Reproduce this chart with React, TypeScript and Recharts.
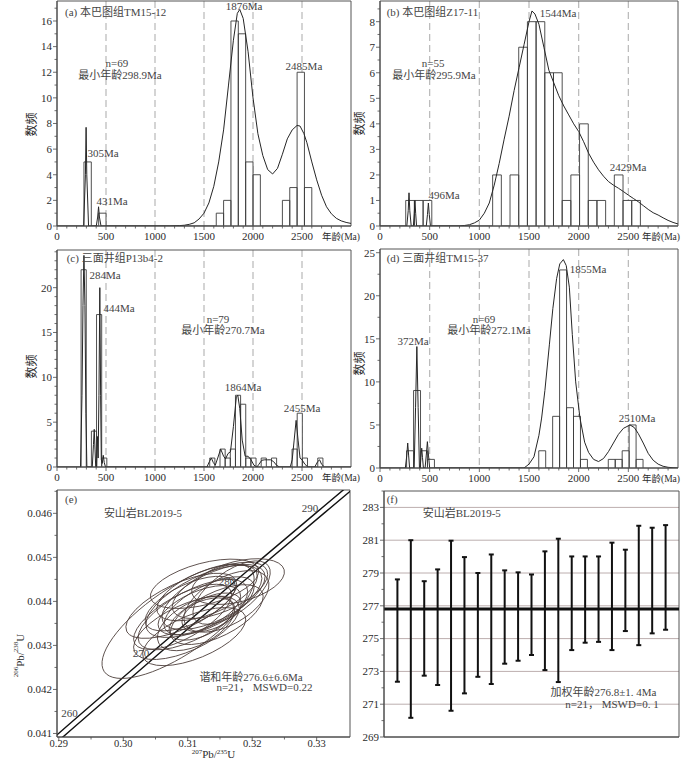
import React from "react";
import {
  ComposedChart,
  Area,
  Line,
  Scatter,
  XAxis,
  YAxis,
  CartesianGrid,
  ReferenceArea,
  ReferenceDot,
  ReferenceLine,
} from "recharts";

const FONT = "'Liberation Serif', 'Times New Roman', 'Noto Sans CJK SC', serif";
const INK = "#2b2b2b";
const NOTE = "#444";
const AXIS = "#4a4a4a";

// ---------- shared age axis (panels a-d) ----------
const AGE_MAJORS = [0, 500, 1000, 1500, 2000, 2500];
const AGE_MINORS = [
  100, 200, 300, 400, 600, 700, 800, 900, 1100, 1200, 1300, 1400, 1600, 1700, 1800, 1900, 2100,
  2200, 2300, 2400, 2600, 2700, 2800, 2900,
];

// ---------- (a) 本巴图组TM15-12 ----------
const binStartA = 275;
const binWidthA = 75;
const countsA = [5, 0, 1, 0, 0, 0, 0, 0, 0, 0, 0, 0, 0, 0, 0, 0, 0, 0, 1, 2, 16, 15, 5, 4, 0, 0, 0, 2, 3, 12, 3];
const kdeA = [
  [0, 0], [272, 0], [290, 4], [297, 7.7], [304, 4], [322, 0], [401, 0], [415, 0.7], [424, 1.5],
  [433, 0.7], [449, 0], [1150, 0], [1250, 0.03], [1300, 0.06], [1350, 0.13], [1400, 0.25],
  [1450, 0.55], [1500, 1.0], [1550, 1.8], [1600, 3.1], [1650, 5.0], [1700, 7.5], [1750, 11.0],
  [1800, 14.5], [1840, 16.6], [1865, 16.9], [1900, 16.2], [1950, 13.6], [2000, 10.0], [2050, 7.2],
  [2100, 5.5], [2150, 4.4], [2200, 4.06], [2250, 4.5], [2300, 5.6], [2350, 6.8], [2400, 7.5],
  [2450, 7.85], [2480, 7.8], [2520, 7.2], [2550, 6.5], [2600, 5.0], [2650, 3.6], [2700, 2.4],
  [2750, 1.5], [2800, 0.95], [2850, 0.6], [2900, 0.4], [2950, 0.28], [3000, 0.2],
];
const yMajorsA = [0, 2, 4, 6, 8, 10, 12, 14, 16];
const yMinorsA = [1, 3, 5, 7, 9, 11, 13, 15, 17];
const notesA: Note[] = [
  [82, 16.7, "(a) 本巴图组TM15-12", "start"],
  [612, 12.7, "n=69"],
  [643, 11.8, "最小年龄298.9Ma"],
  [1908, 17.2, "1876Ma"],
  [2520, 12.5, "2485Ma"],
  [469, 5.7, "305Ma"],
  [561, 1.95, "431Ma"],
];

// ---------- (b) 本巴图组Z17-11 ----------
const binStartB = 259;
const binWidthB = 87.5;
const countsB = [1, 1, 1, 0, 0, 0, 0, 0, 0, 0, 2, 0, 2, 7, 8, 8, 6, 6, 1, 2, 4, 1, 1, 0, 2, 1, 1];
const kdeB = [
  [0, 0], [270, 0], [284, 0.6], [292, 1.3], [300, 0.6], [314, 0], [336, 0], [345, 0.5], [352, 1.0],
  [359, 0.5], [368, 0], [466, 0], [478, 0.45], [487, 0.9], [496, 0.45], [508, 0], [800, 0],
  [850, 0.02], [900, 0.05], [950, 0.12], [1000, 0.23], [1050, 0.5], [1100, 0.9], [1150, 1.6],
  [1200, 2.45], [1250, 3.4], [1300, 4.3], [1350, 5.3], [1400, 6.2], [1450, 7.1], [1500, 8.0],
  [1530, 8.42], [1560, 8.3], [1600, 7.9], [1650, 7.0], [1700, 6.1], [1750, 5.6], [1800, 5.1],
  [1850, 4.7], [1900, 4.35], [1950, 4.0], [2000, 3.7], [2050, 3.3], [2100, 2.85], [2150, 2.5],
  [2200, 2.2], [2250, 1.95], [2300, 1.74], [2350, 1.6], [2400, 1.48], [2450, 1.35], [2500, 1.21],
  [2550, 1.08], [2600, 0.95], [2650, 0.8], [2700, 0.65], [2750, 0.52], [2800, 0.43], [2850, 0.32],
  [2900, 0.22], [2950, 0.14], [3000, 0.08],
];
const yMajorsB = [0, 1, 2, 3, 4, 5, 6, 7, 8];
const yMinorsB = [0.5, 1.5, 2.5, 3.5, 4.5, 5.5, 6.5, 7.5, 8.5];
const notesB: Note[] = [
  [67, 8.38, "(b) 本巴图组Z17-11", "start"],
  [534, 6.38, "n=55"],
  [544, 5.91, "最小年龄295.9Ma"],
  [1792, 8.34, "1544Ma"],
  [2497, 2.31, "2429Ma"],
  [644, 1.21, "496Ma"],
];

// ---------- (c) 三面井组P13b4-2 ----------
const binStartC = 246;
const binWidthC = 52.5;
const countsC = [
  22, 0, 4, 17, 1, 0, 0, 0, 0, 0, 0, 0, 0, 0, 0, 0, 0, 0, 0, 0, 0, 0, 0, 0, 0, 1, 0, 2, 1, 2, 8, 7,
  1, 1, 0, 1, 0, 1, 0, 0, 0, 2, 6, 1, 0, 0, 1,
];
const kdeC = [
  [0, 0], [240, 0], [255, 8], [265, 18], [275, 23.6], [285, 18], [295, 6], [305, 0], [360, 0],
  [372, 2.5], [380, 4.2], [388, 2.0], [395, 0], [405, 0], [412, 3.4], [420, 1.0], [428, 8],
  [437, 20], [445, 8], [452, 0.8], [462, 0.4], [472, 1.3], [482, 0.5], [495, 0], [1530, 0],
  [1555, 0.6], [1575, 1.0], [1595, 0.5], [1615, 0.2], [1640, 1.0], [1670, 2.0], [1700, 1.2],
  [1720, 0.9], [1745, 1.5], [1770, 1.7], [1800, 4.5], [1830, 7.8], [1845, 8.0], [1865, 6.5],
  [1890, 3.0], [1920, 1.2], [1950, 1.2], [1980, 0.8], [2010, 0.2], [2040, 0], [2060, 0.3],
  [2090, 0.75], [2120, 0.8], [2150, 0.8], [2180, 0.8], [2210, 0.6], [2240, 0.2], [2270, 0],
  [2380, 0], [2400, 0.8], [2420, 3], [2440, 5.2], [2460, 3], [2480, 1.0], [2500, 0.8], [2530, 0.3],
  [2560, 0], [2630, 0], [2660, 0.6], [2680, 0.8], [2700, 0.3], [2730, 0], [3000, 0],
];
const yMajorsC = [0, 5, 10, 15, 20];
const yMinorsC = [1, 2, 3, 4, 6, 7, 8, 9, 11, 12, 13, 14, 16, 17, 18, 19, 21, 22, 23, 24];
const notesC: Note[] = [
  [99, 23.3, "(c) 三面井组P13b4-2", "start"],
  [490, 21.4, "284Ma"],
  [633, 17.7, "444Ma"],
  [1643, 16.5, "n=79"],
  [1694, 15.3, "最小年龄270.7Ma"],
  [1898, 8.9, "1864Ma"],
  [2500, 6.6, "2455Ma"],
];

// ---------- (d) 三面井组TM15-37 ----------
const binStartD = 268;
const binWidthD = 70;
const countsD = [2, 9, 2, 1, 0, 0, 0, 0, 0, 0, 0, 0, 0, 0, 0, 0, 0, 0, 0, 2, 0, 6, 23, 7, 6, 1, 0, 0, 0, 1, 1, 2, 5, 1];
const kdeD = [
  [0, 0], [255, 0], [270, 1.5], [279, 2.9], [288, 1.5], [298, 0], [344, 0], [358, 7], [371, 14.1],
  [384, 7], [397, 0], [404, 0], [412, 1.2], [420, 2.3], [428, 1.2], [437, 0], [454, 0], [466, 1.5],
  [477, 3.06], [488, 1.5], [500, 0], [1450, 0], [1500, 0.45], [1550, 1.3], [1600, 3.8],
  [1627, 5.8], [1660, 9.0], [1705, 14.3], [1740, 18.5], [1778, 22.0], [1810, 23.7], [1846, 24.2],
  [1875, 23.5], [1906, 21.0], [1936, 15.5], [1970, 10.0], [2013, 5.8], [2060, 3.0], [2100, 1.8],
  [2150, 1.0], [2200, 0.75], [2250, 1.1], [2300, 1.9], [2350, 2.9], [2400, 3.9], [2450, 4.6],
  [2517, 5.0], [2560, 4.7], [2600, 4.0], [2650, 2.9], [2700, 1.7], [2750, 0.9], [2800, 0.45],
  [2850, 0.2], [2900, 0.08], [2950, 0.03], [3000, 0],
];
const yMajorsD = [0, 5, 10, 15, 20, 25];
const yMinorsD = [2.5, 7.5, 12.5, 17.5, 22.5];
const notesD: Note[] = [
  [67, 24.4, "(d) 三面井组TM15-37", "start"],
  [1047, 17.3, "n=69"],
  [1097, 16.0, "最小年龄272.1Ma"],
  [332, 14.75, "372Ma"],
  [2094, 23.1, "1855Ma"],
  [2587, 5.8, "2510Ma"],
];

// ---------- (e) concordia ----------
const concordY = [0.0408, 0.04116, 0.04277, 0.04439, 0.04601, 0.0467];
const concordLeftX = [0.2884, 0.2912, 0.3039, 0.3168, 0.3299, 0.3355];
const concordRightX = [0.2897, 0.2925, 0.3052, 0.3181, 0.3312, 0.3368];
// [207Pb/235U, 206Pb/238U, half-width x, half-height y, rho]
const ellipses = [
  [0.3085, 0.04355, 0.0118, 0.0013, 0.74],
  [0.3178, 0.04445, 0.0072, 0.00052, 0.42],
  [0.3125, 0.044, 0.009, 0.00082, 0.64],
  [0.3108, 0.0437, 0.0085, 0.0008, 0.66],
  [0.314, 0.0441, 0.008, 0.00074, 0.62],
  [0.3098, 0.0434, 0.0082, 0.00072, 0.62],
  [0.315, 0.04425, 0.0074, 0.00064, 0.58],
  [0.3118, 0.0438, 0.0064, 0.00056, 0.58],
  [0.3133, 0.0439, 0.007, 0.00066, 0.64],
  [0.3092, 0.04365, 0.0076, 0.00074, 0.68],
  [0.316, 0.044, 0.0066, 0.0007, 0.54],
  [0.3113, 0.0435, 0.006, 0.00062, 0.52],
  [0.313, 0.0442, 0.0078, 0.00064, 0.58],
  [0.3104, 0.04395, 0.007, 0.00062, 0.62],
  [0.3145, 0.0437, 0.0072, 0.00068, 0.6],
  [0.3126, 0.0444, 0.0084, 0.00056, 0.5],
  [0.311, 0.0432, 0.008, 0.00066, 0.6],
  [0.3168, 0.0442, 0.006, 0.00072, 0.64],
  [0.3121, 0.0436, 0.005, 0.00048, 0.52],
  [0.3137, 0.04375, 0.0046, 0.00044, 0.48],
  [0.309, 0.0439, 0.0086, 0.00074, 0.66],
];
const xMajorsE = [0.29, 0.3, 0.31, 0.32, 0.33];
const xMinorsE = [0.295, 0.305, 0.315, 0.325];
const yMajorsE = [0.041, 0.042, 0.043, 0.044, 0.045, 0.046];
const yMinorsE = [0.0415, 0.0425, 0.0435, 0.0445, 0.0455, 0.0465];
const notesE: Note[] = [
  [0.29096, 0.046325, "(e)", "start"],
  [0.30306, 0.04601, "安山岩BL2019-5"],
  [0.32896, 0.04612, "290"],
  [0.29166, 0.04146, "260"],
  [0.30275, 0.04283, "270"],
  [0.31609, 0.04446, "280"],
  [0.31981, 0.04229, "谐和年龄276.6±6.6Ma"],
  [0.3219, 0.04205, "n=21， MSWD=0.22"],
];

// ---------- (f) weighted mean ----------
const errTop = [
  278.61, 281.0, 278.5, 279.22, 280.97, 279.97, 279.0, 280.13, 279.16, 279.04, 278.91, 280.32,
  281.09, 280.01, 280.01, 280.01, 280.85, 280.42, 281.88, 281.76, 281.92,
];
const errBottom = [
  272.37, 270.17, 272.74, 272.17, 270.6, 271.66, 272.67, 272.23, 273.47, 273.65, 274.0, 273.08,
  272.35, 274.3, 274.75, 274.8, 274.3, 275.46, 274.6, 275.32, 275.54,
];
const weightedMean = 276.8;
const yMajorsF = [269, 271, 273, 275, 277, 279, 281, 283];
const yMinorsF = [270, 272, 274, 276, 278, 280, 282, 284];
const gridF = [271, 273, 275, 277, 279, 281, 283];
const notesF: Note[] = [
  [0.2, 283.5, "(f)", "start"],
  [5.8, 282.65, "安山岩BL2019-5"],
  [16.36, 271.72, "加权年龄276.8±1. 4Ma"],
  [17.0, 271.02, "n=21， MSWD=0. 1"],
];

type Note = [number, number, string, string?];

// ---------- helpers ----------
const isIn = (list: number[], v: number) => list.some((m) => Math.abs(m - v) < 1e-9);
const sorted = (a: number[], b: number[]) => [...a, ...b].sort((p, q) => p - q);

function makeBottomTick(majors: number[], fmt: (v: number) => string, labelDy = 14, size = 11) {
  return (props: any) => {
    const { x, y, payload } = props;
    const major = isIn(majors, payload.value);
    return (
      <g>
        <line x1={x} y1={y} x2={x} y2={y + (major ? 4 : 2.5)} stroke={AXIS} strokeWidth={0.8} />
        {major && (
          <text x={x} y={y + labelDy} textAnchor="middle" fontSize={size} fontFamily={FONT} fill={INK}>
            {fmt(payload.value)}
          </text>
        )}
      </g>
    );
  };
}

function makeLeftTick(majors: number[], fmt: (v: number) => string) {
  return (props: any) => {
    const { x, y, payload } = props;
    const major = isIn(majors, payload.value);
    return (
      <g>
        <line x1={x - (major ? 4 : 2.5)} y1={y} x2={x} y2={y} stroke={AXIS} strokeWidth={0.8} />
        {major && (
          <text x={x - 5} y={y} dy="0.35em" textAnchor="end" fontSize={11} fontFamily={FONT} fill={INK}>
            {fmt(payload.value)}
          </text>
        )}
      </g>
    );
  };
}

function yTitle(content: React.ReactNode, dx: number, dy: number) {
  return (props: any) => {
    const vb = props.viewBox || { x: 0, y: 0, width: 0, height: 0 };
    const cx = vb.x + dx;
    const cy = vb.y + vb.height / 2 + dy;
    return (
      <text
        x={cx}
        y={cy}
        transform={`rotate(-90 ${cx} ${cy})`}
        textAnchor="middle"
        dominantBaseline="central"
        fontSize={12}
        fontFamily={FONT}
        fill={INK}
      >
        {content}
      </text>
    );
  };
}

function xTitleRight(text: string, dx: number) {
  return (props: any) => {
    const vb = props.viewBox || { x: 0, y: 0, width: 0, height: 0 };
    return (
      <text x={vb.x + vb.width + dx} y={vb.y + 14} textAnchor="end" fontSize={9.5} fontFamily={FONT} fill={INK}>
        {text}
      </text>
    );
  };
}

const noteShape = (text: string, anchor = "middle") => (p: any) => (
  <text
    x={p.cx}
    y={p.cy}
    textAnchor={anchor as any}
    dominantBaseline="central"
    fontSize={11}
    fontFamily={FONT}
    fill={NOTE}
  >
    {text}
  </text>
);

function histOutline(start: number, width: number, counts: number[]) {
  const pts: { x: number; y: number }[] = [];
  counts.forEach((c, i) => {
    if (!c) return;
    const x0 = start + i * width;
    const x1 = x0 + width;
    pts.push({ x: x0, y: 0 }, { x: x0, y: c }, { x: x1, y: c }, { x: x1, y: 0 });
  });
  return pts;
}

// ---------- histogram + probability-density panel ----------
type HistCfg = {
  left: number;
  top: number;
  width: number;
  height: number;
  marginTop: number;
  yWidth: number;
  yMax: number;
  yMajors: number[];
  yMinors: number[];
  binStart: number;
  binWidth: number;
  counts: number[];
  kde: number[][];
  notes: Note[];
  yTitleDx: number;
  yTitleDy: number;
  xTitleDx: number;
};

function HistPanel({ cfg }: { cfg: HistCfg }) {
  const hist = histOutline(cfg.binStart, cfg.binWidth, cfg.counts);
  const kde = cfg.kde.map(([x, y]) => ({ x, y }));
  return (
    <div style={{ position: "absolute", left: cfg.left, top: cfg.top }}>
      <ComposedChart
        width={cfg.width}
        height={cfg.height}
        margin={{ top: cfg.marginTop, right: 10, bottom: 0, left: 0 }}
      >
        <CartesianGrid
          horizontal={false}
          verticalValues={[500, 1000, 1500, 2000, 2500]}
          stroke="#b8b8b8"
          strokeDasharray="7 4"
          strokeWidth={1.2}
        />
        <XAxis
          type="number"
          dataKey="x"
          domain={[0, 3000]}
          allowDataOverflow
          ticks={sorted(AGE_MAJORS, AGE_MINORS)}
          interval={0}
          tickSize={0}
          tickMargin={0}
          tickLine={false}
          height={20}
          axisLine={{ stroke: AXIS }}
          tick={makeBottomTick(AGE_MAJORS, (v) => String(v))}
          label={xTitleRight("年龄(Ma)", cfg.xTitleDx)}
        />
        <YAxis
          type="number"
          dataKey="y"
          domain={[0, cfg.yMax]}
          allowDataOverflow
          ticks={sorted(cfg.yMajors, cfg.yMinors)}
          interval={0}
          tickSize={0}
          tickMargin={0}
          tickLine={false}
          width={cfg.yWidth}
          axisLine={{ stroke: AXIS }}
          tick={makeLeftTick(cfg.yMajors, (v) => String(v))}
          label={yTitle("数频", cfg.yTitleDx, cfg.yTitleDy)}
        />
        <Area
          data={hist}
          dataKey="y"
          type="linear"
          stroke="#3c3c3c"
          strokeWidth={0.9}
          fill="#ffffff"
          fillOpacity={1}
          isAnimationActive={false}
        />
        <Line
          data={kde}
          dataKey="y"
          type="linear"
          stroke="#262626"
          strokeWidth={1}
          dot={false}
          isAnimationActive={false}
        />
        <ReferenceArea x1={0} x2={3000} y1={0} y2={cfg.yMax} fill="none" stroke="#555" strokeWidth={1} />
        {cfg.notes.map((n, i) => (
          <ReferenceDot key={i} x={n[0]} y={n[1]} r={0} shape={noteShape(n[2], n[3] || "middle")} />
        ))}
      </ComposedChart>
    </div>
  );
}

const PANEL_A: HistCfg = {
  left: 0, top: 0, width: 361, height: 246, marginTop: 1, yWidth: 57, yMax: 17.56,
  yMajors: yMajorsA, yMinors: yMinorsA, binStart: binStartA, binWidth: binWidthA, counts: countsA,
  kde: kdeA, notes: notesA, yTitleDx: 32, yTitleDy: 11, xTitleDx: 9,
};
const PANEL_B: HistCfg = {
  left: 340, top: 0, width: 348, height: 246, marginTop: 1, yWidth: 40, yMax: 8.81,
  yMajors: yMajorsB, yMinors: yMinorsB, binStart: binStartB, binWidth: binWidthB, counts: countsB,
  kde: kdeB, notes: notesB, yTitleDx: 20, yTitleDy: 10, xTitleDx: 2,
};
const PANEL_C: HistCfg = {
  left: 0, top: 240, width: 361, height: 247, marginTop: 10, yWidth: 57, yMax: 24.2,
  yMajors: yMajorsC, yMinors: yMinorsC, binStart: binStartC, binWidth: binWidthC, counts: countsC,
  kde: kdeC, notes: notesC, yTitleDx: 32, yTitleDy: 8, xTitleDx: 9,
};
const PANEL_D: HistCfg = {
  left: 340, top: 240, width: 348, height: 248, marginTop: 9, yWidth: 40, yMax: 25.43,
  yMajors: yMajorsD, yMinors: yMinorsD, binStart: binStartD, binWidth: binWidthD, counts: countsD,
  kde: kdeD, notes: notesD, yTitleDx: 20, yTitleDy: 5, xTitleDx: 2,
};

// ---------- (e) concordia panel ----------
const E_DOMAIN_X: [number, number] = [0.28972, 0.33517];
const E_DOMAIN_Y: [number, number] = [0.04092, 0.04653];
const E_PLOT_W = 293;
const E_PLOT_H = 247;

function ellipseShape(p: any) {
  const { cx, cy, payload } = p;
  if (cx == null || cy == null) return <g />;
  const kx = E_PLOT_W / (E_DOMAIN_X[1] - E_DOMAIN_X[0]);
  const ky = E_PLOT_H / (E_DOMAIN_Y[1] - E_DOMAIN_Y[0]);
  const sx = payload.hx * kx;
  const sy = payload.hy * ky;
  const a = sx * sx;
  const d = sy * sy;
  const b = -payload.rho * sx * sy;
  const theta = 0.5 * Math.atan2(2 * b, a - d);
  const mid = (a + d) / 2;
  const rad = Math.sqrt(((a - d) / 2) ** 2 + b * b);
  const rx = Math.sqrt(mid + rad);
  const ry = Math.sqrt(Math.max(mid - rad, 0.5));
  return (
    <ellipse
      cx={cx}
      cy={cy}
      rx={rx}
      ry={ry}
      transform={`rotate(${(theta * 180) / Math.PI} ${cx} ${cy})`}
      fill="none"
      stroke="#4a3c38"
      strokeWidth={0.8}
    />
  );
}

const isoLabel = (a: string, b: string, c: string, d: string) => (
  <>
    <tspan fontSize={7} dy={-4}>{a}</tspan>
    <tspan fontSize={11} dy={4}>{b}</tspan>
    <tspan fontSize={7} dy={-4}>{c}</tspan>
    <tspan fontSize={11} dy={4}>{d}</tspan>
  </>
);

function ConcordiaPanel() {
  const left = concordY.map((y, i) => ({ x: concordLeftX[i], y }));
  const right = concordY.map((y, i) => ({ x: concordRightX[i], y }));
  const ells = ellipses.map(([x, y, hx, hy, rho]) => ({ x, y, hx, hy, rho }));
  return (
    <div style={{ position: "absolute", left: 0, top: 480 }}>
      <ComposedChart width={360} height={279} margin={{ top: 10, right: 10, bottom: 0, left: 0 }}>
        <XAxis
          type="number"
          dataKey="x"
          domain={E_DOMAIN_X}
          allowDataOverflow
          ticks={sorted(xMajorsE, xMinorsE)}
          interval={0}
          tickSize={0}
          tickMargin={0}
          tickLine={false}
          height={22}
          axisLine={{ stroke: AXIS }}
          tick={makeBottomTick(xMajorsE, (v) => v.toFixed(2), 10, 10.5)}
          label={(props: any) => {
            const vb = props.viewBox || { x: 0, y: 0, width: 0 };
            return (
              <text x={vb.x + vb.width / 2 + 10} y={vb.y + 21} textAnchor="middle" fontFamily={FONT} fill={INK}>
                {isoLabel("207", "Pb/", "235", "U")}
              </text>
            );
          }}
        />
        <YAxis
          type="number"
          dataKey="y"
          domain={E_DOMAIN_Y}
          allowDataOverflow
          ticks={sorted(yMajorsE, yMinorsE)}
          interval={0}
          tickSize={0}
          tickMargin={0}
          tickLine={false}
          width={57}
          axisLine={{ stroke: AXIS }}
          tick={makeLeftTick(yMajorsE, (v) => v.toFixed(3))}
          label={yTitle(isoLabel("206", "Pb/", "238", "U"), 20, 42)}
        />
        <Scatter data={ells} dataKey="y" shape={ellipseShape} isAnimationActive={false} />
        <Line data={left} dataKey="y" type="linear" stroke="#111" strokeWidth={1.4} dot={false} isAnimationActive={false} />
        <Line data={right} dataKey="y" type="linear" stroke="#111" strokeWidth={1.4} dot={false} isAnimationActive={false} />
        <ReferenceArea
          x1={E_DOMAIN_X[0]}
          x2={E_DOMAIN_X[1]}
          y1={E_DOMAIN_Y[0]}
          y2={E_DOMAIN_Y[1]}
          fill="none"
          stroke="#555"
          strokeWidth={1}
        />
        {notesE.map((n, i) => (
          <ReferenceDot key={i} x={n[0]} y={n[1]} r={0} shape={noteShape(n[2], n[3] || "middle")} />
        ))}
      </ComposedChart>
    </div>
  );
}

// ---------- (f) weighted-mean panel ----------
function WeightedMeanPanel() {
  const bars = errTop.flatMap((top, i) => [
    { x: i + 1, y: errBottom[i] },
    { x: i + 1, y: top },
    { x: i + 1, y: null as number | null },
  ]);
  const cap = (p: any) =>
    p.cy == null || p.value == null || Number.isNaN(p.cy) ? (
      <g key={p.index} />
    ) : (
      <line key={p.index} x1={p.cx - 2.5} x2={p.cx + 2.5} y1={p.cy} y2={p.cy} stroke="#111" strokeWidth={2} />
    );
  return (
    <div style={{ position: "absolute", left: 340, top: 480 }}>
      <ComposedChart width={349} height={279} margin={{ top: 11, right: 10, bottom: 0, left: 0 }}>
        <CartesianGrid vertical={false} horizontalValues={gridF} stroke="#bcaeae" strokeWidth={1} />
        <XAxis
          type="number"
          dataKey="x"
          domain={[0, 22]}
          allowDataOverflow
          tick={false}
          tickLine={false}
          height={22}
          axisLine={{ stroke: AXIS }}
        />
        <YAxis
          type="number"
          dataKey="y"
          domain={[269, 284]}
          allowDataOverflow
          ticks={sorted(yMajorsF, yMinorsF)}
          interval={0}
          tickSize={0}
          tickMargin={0}
          tickLine={false}
          width={44}
          axisLine={{ stroke: AXIS }}
          tick={makeLeftTick(yMajorsF, (v) => String(v))}
        />
        <ReferenceLine y={weightedMean} stroke="#111" strokeWidth={3} />
        <Line
          data={bars}
          dataKey="y"
          type="linear"
          stroke="#111"
          strokeWidth={2}
          connectNulls={false}
          dot={cap}
          activeDot={false}
          isAnimationActive={false}
        />
        <ReferenceArea x1={0} x2={22} y1={269} y2={284} fill="none" stroke="#555" strokeWidth={1} />
        {notesF.map((n, i) => (
          <ReferenceDot key={i} x={n[0]} y={n[1]} r={0} shape={noteShape(n[2], n[3] || "middle")} />
        ))}
      </ComposedChart>
    </div>
  );
}

export default function App() {
  return (
    <div
      style={{
        position: "absolute",
        left: 0,
        top: 0,
        width: 700,
        height: 759,
        background: "#fff",
        overflow: "hidden",
        fontFamily: FONT,
      }}
    >
      <HistPanel cfg={PANEL_A} />
      <HistPanel cfg={PANEL_B} />
      <HistPanel cfg={PANEL_C} />
      <HistPanel cfg={PANEL_D} />
      <ConcordiaPanel />
      <WeightedMeanPanel />
    </div>
  );
}
